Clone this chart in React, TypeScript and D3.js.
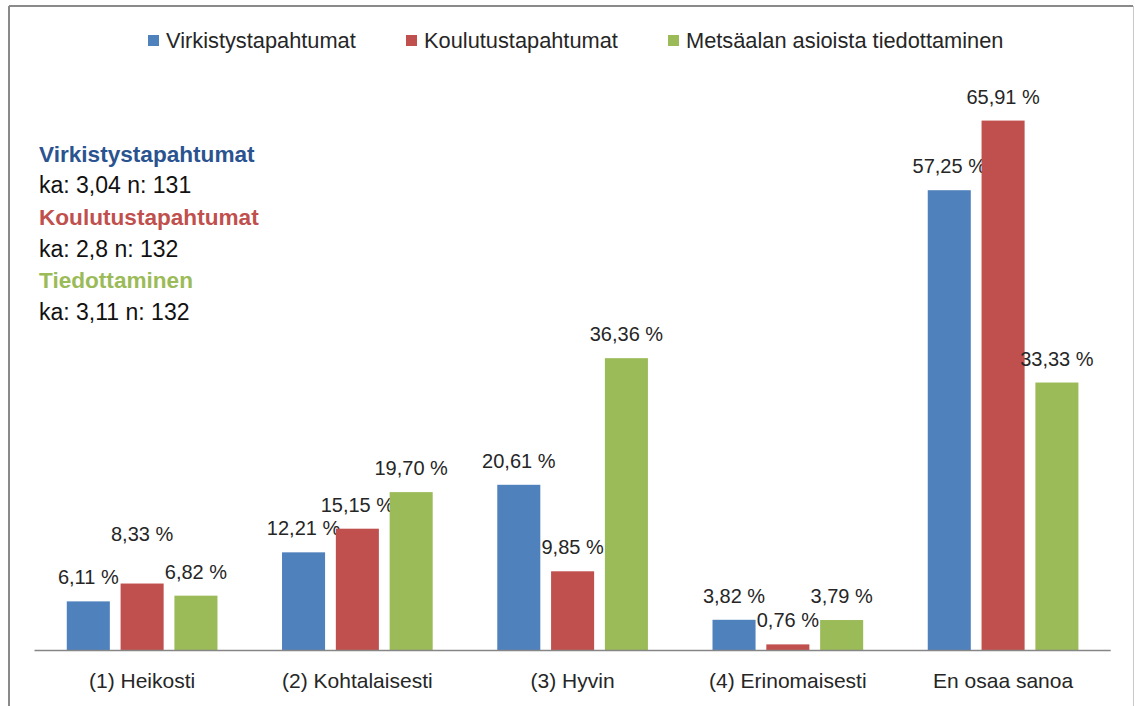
import React, { useMemo } from "react";
import * as d3 from "d3";

const WIDTH = 1135;
const HEIGHT = 706;

const categories = [
  "(1) Heikosti",
  "(2) Kohtalaisesti",
  "(3) Hyvin",
  "(4) Erinomaisesti",
  "En osaa sanoa",
];
const seriesNames = [
  "Virkistystapahtumat",
  "Koulutustapahtumat",
  "Metsäalan asioista tiedottaminen",
];
const virkistys = [6.11, 12.21, 20.61, 3.82, 57.25];
const koulutus = [8.33, 15.15, 9.85, 0.76, 65.91];
const tiedottaminen = [6.82, 19.7, 36.36, 3.79, 33.33];

const noteTitles = ["Virkistystapahtumat", "Koulutustapahtumat", "Tiedottaminen"];
const noteLines = ["ka: 3,04 n: 131", "ka: 2,8 n: 132", "ka: 3,11 n: 132"];

const COLORS = ["#4F81BD", "#C0504D", "#9BBB59"];
const NOTE_COLORS = ["#2A5390", "#C0504D", "#9BBB59"];

const FONT = "'Liberation Sans', Arial, sans-serif";
const AXIS_Y = 650.5;
const X_LEFT = 34.5;
const X_RIGHT = 1110.7;

// the 8,33 % label was dragged up in the original
const labelNudge: Record<string, number> = { "1-0": -26 };

const fmt = (v: number) => v.toFixed(2).replace(".", ",") + " %";

const App = () => {
  const values = [virkistys, koulutus, tiedottaminen];

  const x0 = useMemo(
    () => d3.scaleBand().domain(categories).range([X_LEFT, X_RIGHT]).padding(0),
    []
  );
  const x1 = useMemo(
    () =>
      d3
        .scaleBand()
        .domain(seriesNames)
        .range([0, x0.bandwidth()])
        .paddingInner(0.2)
        .paddingOuter(0.6),
    [x0]
  );
  const y = useMemo(
    () => d3.scaleLinear().domain([0, 70]).range([AXIS_Y, AXIS_Y - 70 * 8.04]),
    []
  );

  const legendX = [148, 406, 668];

  return (
    <svg
      width={WIDTH}
      height={HEIGHT}
      style={{ position: "absolute", left: 0, top: 0, background: "#fff" }}
      fontFamily={FONT}
    >
      <rect x={0} y={0} width={WIDTH} height={HEIGHT} fill="#fff" />
      {/* frame */}
      <line x1={9} y1={6} x2={1133} y2={6} stroke="#8a8a8a" strokeWidth={2} />
      <line x1={9} y1={6} x2={9} y2={HEIGHT} stroke="#8a8a8a" strokeWidth={2} />
      <line x1={1133.5} y1={6} x2={1133.5} y2={HEIGHT} stroke="#c8c8c8" strokeWidth={1} />

      {/* legend */}
      {seriesNames.map((s, i) => (
        <g key={s} transform={`translate(${legendX[i]},0)`}>
          <rect x={0} y={35} width={11} height={11} fill={COLORS[i]} />
          <text x={18} y={47.5} fontSize={21.8} fill="#262626">
            {s}
          </text>
        </g>
      ))}

      {/* notes */}
      {noteTitles.map((t, i) => (
        <g key={t}>
          <text
            x={39}
            y={161.7 + i * 63.2}
            fontSize={22.6}
            fontWeight="bold"
            fill={NOTE_COLORS[i]}
          >
            {t}
          </text>
          <text x={39} y={193.3 + i * 63.2} fontSize={23} fill="#111">
            {noteLines[i]}
          </text>
        </g>
      ))}

      {/* bars */}
      {categories.map((c, ci) => (
        <g key={c} transform={`translate(${x0(c)},0)`}>
          {seriesNames.map((s, si) => {
            const v = values[si][ci];
            const bx = x1(s)!;
            return (
              <g key={s}>
                <rect
                  x={bx}
                  y={y(v)}
                  width={x1.bandwidth()}
                  height={AXIS_Y - y(v)}
                  fill={COLORS[si]}
                />
                <text
                  x={bx + x1.bandwidth() / 2}
                  y={y(v) - 17 + (labelNudge[`${si}-${ci}`] || 0)}
                  textAnchor="middle"
                  fontSize={20}
                  fill="#262626"
                >
                  {fmt(v)}
                </text>
              </g>
            );
          })}
          <text
            x={x0.bandwidth() / 2}
            y={688}
            textAnchor="middle"
            fontSize={21}
            fill="#262626"
          >
            {c}
          </text>
        </g>
      ))}

      {/* axis */}
      <line x1={X_LEFT} y1={AXIS_Y} x2={X_RIGHT} y2={AXIS_Y} stroke="#868686" strokeWidth={1.5} />
    </svg>
  );
};

export default App;
